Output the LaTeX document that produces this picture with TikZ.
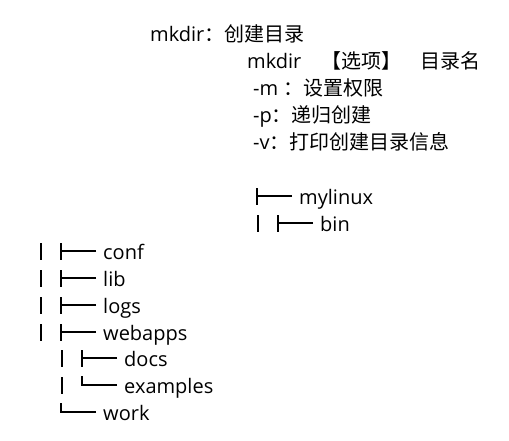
\documentclass[tikz,border=0pt]{standalone}
\usepackage{fontspec}
\setmainfont{Open Sans}
\newfontfamily\cjk{Noto Sans CJK SC}
\usetikzlibrary{positioning}

% tree rows: branch glyphs drawn up to the text node
\newcommand{\treetee}[1]{\draw[branch] ([xshift=-7]#1.west) -- ++(-35,0) ++(0,-8) -- ++(0,17);}
\newcommand{\treeend}[1]{\draw[branch] ([xshift=-7]#1.west) -- ++(-35,0) -- ++(0,-9);}
\newcommand{\treebar}[1]{\draw[branch] ([xshift=-62]#1.west) ++(0,-8) -- ++(0,17);}

\begin{document}
\begin{tikzpicture}[x=1pt,y=-1pt,
  line/.style={anchor=base west,inner sep=0pt,font=\fontsize{20}{27}\selectfont},
  entry/.style={anchor=west,inner sep=0pt,text height=16pt,text depth=0pt,
    font=\fontsize{20}{27}\selectfont},
  branch/.style={line width=1.3pt}]
  \useasboundingbox (0,0) rectangle (509,440);
  % command notes
  \node[line] (title) at (150,41) {mkdir\cjk{：创建目录}};
  \node[line] (syntax) at (247,68) {mkdir\hspace{20pt}\cjk{【选项】}\hspace{19pt}\cjk{目录名}};
  \node[line] (optm) at (253,95) {-m \cjk{：设置权限}};
  \node[line] (optp) at (253,122) {-p\cjk{：递归创建}};
  \node[line] (optv) at (253,149) {-v\cjk{：打印创建目录信息}};
  % directory tree
  \node[entry] (mylinux) at (299,196) {mylinux};
  \node[entry] (bin) at (320,223) {bin};
  \node[entry] (conf) at (103,251) {conf};
  \node[entry] (lib) at (103,278) {lib};
  \node[entry] (logs) at (103,305) {logs};
  \node[entry] (webapps) at (103,332) {webapps};
  \node[entry] (docs) at (124,358) {docs};
  \node[entry] (examples) at (124,385) {examples};
  \node[entry] (work) at (103,412) {work};
  \treetee{mylinux}
  \treebar{bin} \treetee{bin}
  \treebar{conf} \treetee{conf}
  \treebar{lib} \treetee{lib}
  \treebar{logs} \treetee{logs}
  \treebar{webapps} \treetee{webapps}
  \treebar{docs} \treetee{docs}
  \treebar{examples} \treeend{examples}
  \treeend{work}
\end{tikzpicture}
\end{document}
